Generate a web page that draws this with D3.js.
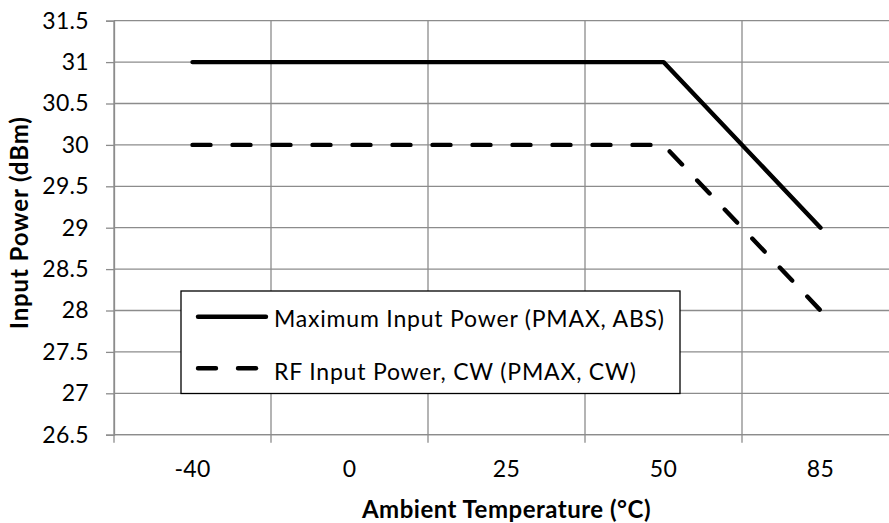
<!DOCTYPE html>
<html>
<head>
<meta charset="utf-8">
<script src="https://cdn.jsdelivr.net/npm/d3@7"></script>
<style>
  html, body { margin: 0; padding: 0; background: #fff; }
  svg { display: block; font-family: Lato, "Open Sans", sans-serif; }
</style>
</head>
<body>
<svg id="chart" width="889" height="523"></svg>
<script>
const temperatures = ["-40", "0", "25", "50", "85"];
const pmaxAbs = [31, 31, 31, 31, 29];
const pmaxCw = [30, 30, 30, 30, 28];
const yTicks = [26.5, 27, 27.5, 28, 28.5, 29, 29.5, 30, 30.5, 31, 31.5];
const seriesNames = ["Maximum Input Power (PMAX, ABS)", "RF Input Power, CW (PMAX, CW)"];
const xTitle = "Ambient Temperature (°C)";
const yTitle = "Input Power (dBm)";

const svg = d3.select("#chart");
const pLeft = 114, pRight = 899, pTop = 20.7, pBottom = 434.7;
const gridColor = "#8c8c8c";
const fontSize = 23;

const x = d3.scaleBand().domain(temperatures).range([pLeft, pRight]).padding(0);
const y = d3.scaleLinear().domain([26.5, 31.5]).range([pBottom, pTop]);

// horizontal gridlines
svg.append("g").selectAll("line").data(yTicks).join("line")
  .attr("x1", pLeft).attr("x2", pRight)
  .attr("y1", d => y(d)).attr("y2", d => y(d))
  .attr("stroke", gridColor).attr("stroke-width", 1.3);

// vertical gridlines at category boundaries
const bounds = temperatures.map(t => x(t)).concat([x(temperatures[temperatures.length - 1]) + x.bandwidth()]);
svg.append("g").selectAll("line").data(bounds).join("line")
  .attr("x1", d => d).attr("x2", d => d)
  .attr("y1", pTop).attr("y2", pBottom)
  .attr("stroke", gridColor).attr("stroke-width", 1.3);

// Y axis
const yAxis = d3.axisLeft(y).tickValues(yTicks).tickSize(8).tickPadding(17)
  .tickFormat(d => String(d));
const gy = svg.append("g").attr("transform", `translate(${pLeft},0)`).call(yAxis);
gy.select(".domain").attr("stroke", gridColor).attr("stroke-width", 1.3);
gy.selectAll(".tick line").attr("stroke", gridColor).attr("stroke-width", 1.3);
gy.selectAll(".tick text").attr("font-size", fontSize).attr("fill", "#000")
  .attr("font-family", "Lato, sans-serif").attr("letter-spacing", 0.3);

// X axis: ticks at category boundaries, labels at centers
svg.append("line").attr("x1", pLeft).attr("x2", pRight).attr("y1", pBottom).attr("y2", pBottom)
  .attr("stroke", gridColor).attr("stroke-width", 1.3);
svg.append("g").selectAll("line").data(bounds).join("line")
  .attr("x1", d => d).attr("x2", d => d)
  .attr("y1", pBottom).attr("y2", pBottom + 8)
  .attr("stroke", gridColor).attr("stroke-width", 1.3);
svg.append("g").selectAll("text").data(temperatures).join("text")
  .attr("x", d => x(d) + x.bandwidth() / 2)
  .attr("y", 476.7)
  .attr("text-anchor", "middle")
  .attr("font-size", fontSize).attr("fill", "#000").attr("letter-spacing", 0.3)
  .text(d => d);

// axis titles
svg.append("text")
  .attr("x", (pLeft + pRight) / 2).attr("y", 518)
  .attr("text-anchor", "middle")
  .attr("font-size", 24).attr("font-weight", "bold").attr("letter-spacing", 0.5)
  .text(xTitle);
svg.append("text")
  .attr("transform", `translate(28,222.7) rotate(-90)`)
  .attr("text-anchor", "middle")
  .attr("font-size", 24).attr("font-weight", "bold").attr("letter-spacing", 0.9)
  .text(yTitle);

// lines
const line = d3.line().x((d, i) => x(temperatures[i]) + x.bandwidth() / 2).y(d => y(d));
svg.append("path").datum(pmaxAbs).attr("d", line)
  .attr("fill", "none").attr("stroke", "#000").attr("stroke-width", 4.4)
  .attr("stroke-linecap", "round").attr("stroke-linejoin", "round");
svg.append("path").datum(pmaxCw).attr("d", line)
  .attr("fill", "none").attr("stroke", "#000").attr("stroke-width", 4.4)
  .attr("stroke-linecap", "round").attr("stroke-linejoin", "round")
  .attr("stroke-dasharray", "18,22");

// legend
const lg = svg.append("g");
lg.append("rect").attr("x", 181).attr("y", 291).attr("width", 499).attr("height", 102.5)
  .attr("fill", "#fff").attr("stroke", "#000").attr("stroke-width", 1.3);
const rowsY = [316.7, 368.3];
const rowsBase = [326.7, 380];
lg.selectAll("line.l").data(seriesNames).join("line")
  .attr("x1", 198).attr("x2", 266)
  .attr("y1", (d, i) => rowsY[i]).attr("y2", (d, i) => rowsY[i])
  .attr("stroke", "#000").attr("stroke-width", 4.4).attr("stroke-linecap", "round")
  .attr("stroke-dasharray", (d, i) => i === 1 ? "18,22" : null);
lg.selectAll("text").data(seriesNames).join("text")
  .attr("x", 274).attr("y", (d, i) => rowsBase[i])
  .attr("font-size", fontSize).attr("fill", "#000").attr("letter-spacing", 0.8)
  .text(d => d);
</script>
</body>
</html>
